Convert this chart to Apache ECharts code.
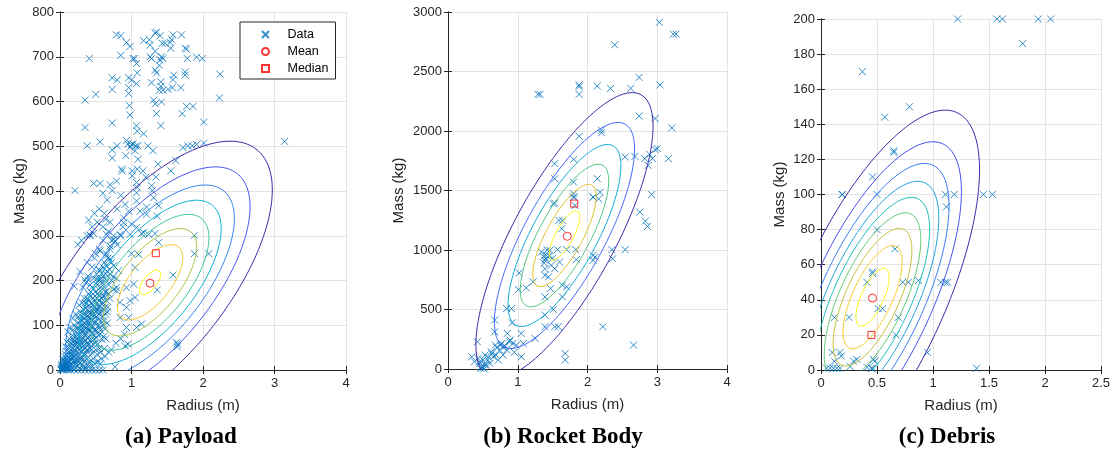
<!DOCTYPE html>
<html><head><meta charset="utf-8">
<script src="https://cdn.jsdelivr.net/npm/echarts@6/dist/echarts.min.js"></script>
<style>html,body{margin:0;padding:0;background:#fff}#c{width:1114px;height:458px}</style>
</head><body><div id="c"></div>
<script>
// ---------------- DATA ----------------
const panelTitles = ['(a) Payload', '(b) Rocket Body', '(c) Debris'];
const legendNames = ['Data', 'Mean', 'Median'];
const xAxisName = 'Radius (m)';
const yAxisName = 'Mass (kg)';

const payloadData = [
[0.21,401],[0.41,696],[0.35,603],[0.50,616],[0.35,542],[0.38,501],[0.56,510],[0.47,417],[0.56,417],[0.70,414],[0.73,401],[0.73,653],[0.73,627],[0.80,648],[0.73,552],[0.73,492],[0.73,474],[0.80,501],[0.79,422],[0.79,749],[0.85,747],[0.85,703],[0.93,732],[0.98,723],[0.96,631],[0.96,618],[0.97,591],[0.96,653],[1.00,648],[0.98,570],[0.86,449],[0.87,445],[0.92,479],[0.93,513],[0.95,505],[0.98,498],[1.00,504],[1.02,505],[1.06,501],[1.09,501],[1.02,696],[1.04,696],[1.07,685],[1.08,664],[1.07,640],[1.09,471],[1.08,449],[1.07,546],[1.08,534],[1.17,528],[1.05,490],[1.07,419],[1.08,408],[1.07,396],[1.01,445],[1.01,434],[1.17,736],[1.25,738],[1.26,726],[1.28,696],[1.26,700],[1.33,712],[1.33,753],[1.35,755],[1.40,747],[1.43,730],[1.47,730],[1.54,732],[1.56,738],[1.58,749],[1.70,749],[1.55,719],[1.42,700],[1.40,693],[1.44,696],[1.39,681],[1.33,670],[1.35,664],[1.28,642],[1.31,603],[1.41,644],[1.41,634],[1.39,625],[1.44,625],[1.51,627],[1.57,631],[1.59,659],[1.58,649],[1.69,631],[1.75,666],[1.75,659],[1.75,719],[1.77,717],[1.78,696],[1.91,699],[1.99,696],[2.24,661],[2.23,608],[1.77,589],[1.86,589],[1.71,573],[1.35,573],[1.42,599],[1.41,546],[1.33,595],[1.72,497],[1.79,501],[1.85,501],[1.91,504],[2.01,507],[2.01,554],[3.14,511],[1.23,501],[1.30,490],[1.37,460],[1.55,445],[1.62,468],[1.34,431],[1.29,401],[1.28,412],[1.20,431],[1.16,445],
[0.40,335],[0.42,302],[0.47,305],[0.64,337],[0.65,303],[0.28,220],[0.20,187],[0.35,201],[0.40,201],[0.51,203],[0.56,203],[0.75,208],[0.79,205],[0.79,184],[0.93,184],[1.03,192],[1.05,229],[1.00,260],[1.10,258],[1.14,305],[1.17,307],[1.24,303],[1.33,305],[1.38,285],[1.58,212],[1.36,179],[1.88,301],[1.88,260],[2.08,260],[1.14,103],[1.07,95],[0.93,95],[0.95,58],[0.91,54],[1.64,58],[1.64,52],[1.63,62],[0.77,7],[0.56,13],[0.93,140],[0.84,151],[0.79,177],[0.96,117],[0.84,117],[0.98,155],[1.05,162],[1.21,364],[1.31,385],[1.38,367],[1.21,348],[1.36,344],[1.07,378],[1.12,355],[1.00,326],[1.07,318],[0.91,370],[0.89,340],[0.89,329],[0.96,355],[0.98,303],[0.84,303],[0.77,288],[0.70,277],[0.70,248],[0.75,292],[0.56,266],[0.65,255],[0.56,222],[0.65,233],[0.75,233],[0.82,222],[0.70,214],
[0.60,395],[0.66,380],[0.55,360],[0.48,350],[0.62,350],[0.85,390],[0.80,360],[0.70,330],[0.60,320],[0.52,330],[0.45,320],[0.38,300],[0.30,290],[0.25,280],
[0.01,1],[0.02,2],[0.03,1],[0.04,3],[0.05,2],[0.06,5],[0.07,3],[0.08,6],[0.09,4],[0.10,8],[0.02,5],[0.04,8],[0.06,10],[0.08,12],[0.10,15],[0.12,10],[0.11,20],[0.13,18],[0.14,25],[0.15,12],[0.15,30],[0.16,22],[0.17,35],[0.18,28],[0.19,40],[0.20,20],[0.20,45],[0.21,33],[0.22,55],[0.23,42],[0.24,60],[0.25,30],[0.25,50],[0.26,65],[0.27,45],[0.28,72],[0.29,55],[0.30,80],[0.30,40],[0.31,62],[0.32,88],[0.33,70],[0.34,95],[0.35,50],[0.35,78],[0.36,102],[0.37,85],[0.38,110],[0.38,60],[0.39,92],[0.40,118],[0.40,75],[0.41,100],[0.42,125],[0.42,65],[0.43,88],[0.44,110],[0.45,132],[0.45,80],[0.46,95],[0.47,120],[0.48,140],[0.48,70],[0.49,105],[0.50,130],[0.50,90],[0.51,148],[0.52,115],[0.53,135],[0.54,100],[0.55,155],[0.55,125],[0.56,142],[0.57,110],[0.58,160],[0.58,130],[0.60,150],[0.60,120],[0.62,165],[0.63,140],[0.65,175],[0.66,130],[0.68,190],[0.70,160],[0.72,200],[0.75,180],
[0.05,25],[0.08,35],[0.12,50],[0.15,60],[0.18,70],[0.22,85],[0.25,95],[0.28,110],[0.30,120],[0.33,135],[0.35,150],[0.38,160],[0.40,170],[0.43,175],[0.45,185],[0.50,175],[0.52,190],[0.55,200],[0.58,215],[0.60,230],[0.62,240],[0.65,260],[0.67,250],[0.70,270],[0.72,290],[0.75,300],[0.68,310],[0.80,280],[0.85,300],[0.88,320],[0.45,230],[0.42,300],[0.50,260],[0.55,270],[0.60,290],
[0.05,0],[0.10,0],[0.15,0],[0.20,0],[0.25,0],[0.30,0],[0.35,0],[0.40,0],[0.45,0],[0.50,0],[0.55,0],[0.60,0],[0.12,2],[0.18,3],[0.22,5],[0.28,4],[0.33,8],[0.38,10],[0.43,12],[0.48,15],[0.53,20],[0.58,25],[0.63,30],[0.68,40],[0.72,45],[0.78,60],[0.85,70],[0.90,80],
[0.15,45],[0.18,55],[0.20,65],[0.23,75],[0.26,80],[0.29,90],[0.32,100],[0.34,115],[0.36,125],[0.39,135],[0.41,145],[0.44,150],[0.46,160],[0.49,165],[0.52,170],[0.54,180],[0.57,185],[0.59,195],[0.62,205],[0.64,215],[0.66,220],
[0.03,10],[0.07,15],[0.11,5],[0.14,8],[0.16,15],[0.19,10],[0.21,18],[0.24,8],[0.27,14],[0.31,12],[0.34,20],[0.36,6],[0.41,18],[0.44,5],[0.27,25],
[0.04,22],[0.07,30],[0.09,42],[0.12,28],[0.14,38],[0.17,48],[0.20,30],[0.23,22],[0.26,38],[0.29,28],[0.32,45],[0.34,32],[0.37,42],[0.40,28],[0.42,48],[0.45,38],[0.47,25],[0.50,45],[0.52,35],[0.55,48],[0.57,40],[0.62,48],
[0.08,52],[0.10,62],[0.13,70],[0.16,58],[0.19,75],[0.21,60],[0.24,70],[0.27,58],[0.30,68],[0.33,55],[0.36,65],[0.39,72],[0.41,58],[0.44,68],[0.47,78],[0.49,60],[0.51,72],[0.53,58],[0.56,80],[0.59,68],[0.61,75],[0.64,70],
[0.11,85],[0.14,95],[0.17,88],[0.20,100],[0.23,92],[0.26,105],[0.29,98],[0.31,85],[0.34,105],[0.37,95],[0.40,88],[0.42,108],[0.45,98],[0.48,90],[0.50,108],[0.52,82],[0.55,95],[0.57,88],[0.60,100],[0.63,92],[0.66,105],
[0.18,115],[0.22,125],[0.25,118],[0.28,130],[0.31,112],[0.33,125],[0.36,138],[0.38,120],[0.41,130],[0.43,115],[0.46,125],[0.49,135],[0.51,120],[0.54,140],[0.56,128],[0.59,138],[0.61,110],[0.64,125],[0.67,140],
[0.27,145],[0.31,150],[0.34,160],[0.37,148],[0.40,155],[0.43,165],[0.46,145],[0.49,155],[0.52,160],[0.55,168],[0.57,150],[0.60,165],[0.63,175],[0.65,155],[0.68,170],
[0.32,185],[0.36,195],[0.39,210],[0.42,190],[0.47,205],[0.51,215],[0.54,225],[0.58,205],[0.62,185],[0.66,200],[0.69,225],[0.72,240],[0.48,250],[0.38,240],
[0.02,12],[0.05,15],[0.06,20],[0.09,25],[0.10,32],[0.13,40],[0.03,6],[0.07,8],[0.09,18],[0.12,15],[0.16,5],[0.22,12],[0.26,20],[0.30,25],[0.35,35],[0.38,45],[0.33,25],[0.39,55],[0.44,45],[0.46,58]
];

const rocketData = [
[3.03,2913],[3.23,2814],[3.27,2814],[2.39,2724],[1.29,2308],[1.32,2308],[1.88,2387],[1.88,2373],[1.88,2308],[2.14,2378],[2.33,2358],[2.62,2358],[2.74,2451],[3.04,2387],[2.74,2125],[2.97,2105],[2.20,2007],[2.20,1984],[1.88,1956],[3.21,2026],[1.53,1726],[1.80,1762],[2.54,1782],[2.68,1787],[2.82,1768],[2.89,1804],[2.93,1768],[2.97,1844],[3.00,1852],[2.87,1711],[3.16,1768],[1.53,1599],[1.80,1571],[2.14,1599],[1.80,1472],[1.80,1444],[2.08,1444],[2.18,1486],
[1.53,1394],[1.51,1388],[1.81,1444],[1.82,1374],[2.08,1444],[2.16,1430],[1.59,1249],[1.64,1249],[1.63,1179],[2.75,1318],[2.83,1243],[2.86,1198],[2.92,1466],[1.34,983],[1.37,947],[1.39,913],[1.41,955],[1.46,997],[1.57,1003],[1.70,1003],[1.83,1003],[1.84,919],[1.60,899],[1.48,871],[1.39,843],[1.39,787],[1.44,774],[1.53,843],[2.08,955],[2.08,913],[2.11,941],[2.35,1003],[2.36,927],[2.54,1003],[1.02,807],[1.01,668],[1.12,682],[1.22,732],[1.47,676],[1.64,704],[1.64,606],[1.70,690],[1.39,606],[1.51,500],[1.39,453],[1.39,355],[1.53,355],[1.58,355],[1.25,257],[0.84,508],[0.91,508],[0.92,388],[0.67,411],[0.67,313],[0.85,299],[1.05,299],[1.08,215],[1.05,103],[0.93,215],[0.89,243],[0.77,215],[0.68,201],[2.22,355],[2.66,201],[1.68,131],[1.68,75],[0.42,229],[0.34,103],[0.38,61],[0.46,47],[0.50,75],[0.53,117],[0.57,75],[0.48,20],[0.53,34],[0.60,47],[0.65,103],[0.69,117],[0.74,159],[0.84,159],[0.79,187],[0.79,117],[0.72,75],[0.62,145],[0.55,34],[0.43,89],
[0.47,5],[0.50,10],[0.52,2],[0.45,60],[0.58,100],[0.63,130],[0.70,180],[0.75,200],[0.82,190],[0.88,230],[0.95,140],[0.98,200],[1.40,930],[1.42,1000],[1.38,890],[1.45,950],[1.50,930]
];

const debrisData = [
[1.22,200],[1.57,200],[1.62,200],[1.94,200],[2.05,200],[1.80,186],[0.37,170],[0.57,144],[0.79,150],[0.65,125],[0.65,124],[0.46,110],[0.19,100],[0.19,100],[0.50,100],[1.11,100],[1.19,100],[1.45,100],[1.53,100],
[1.12,93],[0.50,80],[0.66,69],[0.46,56],[0.46,55],[0.41,50],[0.73,50],[0.78,50],[0.87,51],[1.07,50],[1.11,50],[1.13,50],[0.51,35],[0.55,35],[0.69,30],[0.12,30],[0.25,30],[0.67,20],[0.95,10],[0.10,10],[0.17,10],[0.18,8],[0.12,5],[0.29,5],[0.32,6],[0.48,5],[0.47,6],[0.26,2],[0.41,1.5],[0.45,1],[0.05,1],[0.08,1],[0.11,1],[0.14,1],[0.17,1],[1.39,1],[0.46,1]
];

// Mean and median markers [radius, mass]
const payloadMean = [1.26, 194];
const payloadMedian = [1.34, 261];
const rocketMean = [1.71, 1115];
const rocketMedian = [1.81, 1390];
const debrisMean = [0.46, 41];
const debrisMedian = [0.45, 20];

// Fitted Gaussian (contour) parameters: centre, std devs, correlation, contour levels (fraction of peak density)
const payloadGaussCenter = [1.26, 196];
const payloadGaussSd = [0.835, 154];
const payloadGaussRho = 0.655;
const payloadLevels = [0.123, 0.246, 0.369, 0.492, 0.615, 0.738, 0.861, 0.984];

const rocketGaussCenter = [1.67, 1122];
const rocketGaussSd = [0.661, 625];
const rocketGaussRho = 0.764;
const rocketLevels = [0.158, 0.315, 0.473, 0.631, 0.789, 0.946];

const debrisGaussCenter = [0.46, 41.5];
const debrisGaussSd = [0.45, 50.2];
const debrisGaussRho = 0.68;
const debrisLevels = [0.105, 0.211, 0.316, 0.421, 0.526, 0.632, 0.737, 0.842, 0.947];

// Axis ranges / ticks
const xRanges = [[0, 4, 1], [0, 4, 1], [0, 2.5, 0.5]];
const yRanges = [[0, 800, 100], [0, 3000, 500], [0, 200, 20]];

// ---------------- STYLE / LAYOUT ----------------
const grids = [
  {left: 60, top: 12, width: 286, height: 358},
  {left: 448, top: 12, width: 279, height: 357},
  {left: 821, top: 19, width: 280, height: 351}
];
const yNameGaps = [33, 42, 34];
const captionX = [181, 563, 947];
const blue = '#0072BD';
const axisColor = '#262626';
const font = '"Liberation Sans", Arial, sans-serif';
const xSymbol = 'path://M0,0L10,10M10,0L0,10';
const squareSymbol = 'path://M0,0L10,0L10,10L0,10Z';

const parulaStops = [
  [0.0,[62,38,168]],[0.111,[71,71,235]],[0.222,[62,111,255]],[0.333,[39,150,235]],
  [0.444,[8,181,208]],[0.556,[49,198,159]],[0.667,[129,204,89]],[0.778,[220,189,41]],
  [0.889,[252,207,48]],[1.0,[249,251,21]]
];
function parula(t) {
  for (let i = 0; i < parulaStops.length - 1; i++) {
    const [t0, c0] = parulaStops[i], [t1, c1] = parulaStops[i + 1];
    if (t <= t1) {
      const f = (t - t0) / (t1 - t0);
      return 'rgb(' + c0.map((v, k) => Math.round(v + (c1[k] - v) * f)).join(',') + ')';
    }
  }
  return 'rgb(249,251,21)';
}

function contourPath(center, sd, rho, level) {
  const r = Math.sqrt(-2 * Math.log(level));
  const pts = [];
  const n = 300;
  const q = Math.sqrt(1 - rho * rho);
  for (let i = 0; i <= n; i++) {
    const t = 2 * Math.PI * i / n;
    const c = Math.cos(t), s = Math.sin(t);
    pts.push([center[0] + r * sd[0] * c, center[1] + r * sd[1] * (rho * c + q * s)]);
  }
  return pts;
}

const panels = [
  {data: payloadData, mean: payloadMean, median: payloadMedian, gc: payloadGaussCenter, gs: payloadGaussSd, gr: payloadGaussRho, lv: payloadLevels},
  {data: rocketData, mean: rocketMean, median: rocketMedian, gc: rocketGaussCenter, gs: rocketGaussSd, gr: rocketGaussRho, lv: rocketLevels},
  {data: debrisData, mean: debrisMean, median: debrisMedian, gc: debrisGaussCenter, gs: debrisGaussSd, gr: debrisGaussRho, lv: debrisLevels}
];

const xAxes = [], yAxes = [], series = [], graphics = [];
panels.forEach((p, i) => {
  const [xmin, xmax, xint] = xRanges[i];
  const [ymin, ymax, yint] = yRanges[i];
  const common = {
    gridIndex: i,
    axisLine: {show: true, lineStyle: {color: axisColor, width: 1}},
    axisTick: {show: true, inside: true, length: 4, lineStyle: {color: axisColor}},
    splitLine: {show: false}
  };
  xAxes.push(Object.assign({}, common, {
    type: 'value', position: 'bottom', min: xmin, max: xmax, interval: xint,
    name: xAxisName, nameLocation: 'middle', nameGap: 28,
    nameTextStyle: {fontFamily: font, fontSize: 15, color: axisColor},
    axisLabel: {show: true, margin: 7, fontFamily: font, fontSize: 13, color: axisColor, formatter: v => String(v)},
    splitLine: {show: true, lineStyle: {color: '#e3e3e3', width: 1}}
  }));
  xAxes.push(Object.assign({}, common, {
    type: 'value', position: 'top', min: xmin, max: xmax, interval: xint,
    axisLabel: {show: false}
  }));
  yAxes.push(Object.assign({}, common, {
    type: 'value', position: 'left', min: ymin, max: ymax, interval: yint,
    name: yAxisName, nameLocation: 'middle', nameGap: yNameGaps[i],
    nameTextStyle: {fontFamily: font, fontSize: 15, color: axisColor},
    axisLabel: {show: true, margin: 6, fontFamily: font, fontSize: 13, color: axisColor, formatter: v => String(v)},
    splitLine: {show: true, lineStyle: {color: '#e3e3e3', width: 1}}
  }));
  yAxes.push(Object.assign({}, common, {
    type: 'value', position: 'right', min: ymin, max: ymax, interval: yint,
    axisLabel: {show: false}
  }));
  const xi = 2 * i, yi = 2 * i;
  series.push({
    name: legendNames[0], type: 'scatter', xAxisIndex: xi, yAxisIndex: yi,
    symbol: xSymbol, symbolSize: 7,
    itemStyle: {color: 'rgba(0,0,0,0)', borderColor: blue, borderWidth: 1},
    data: p.data, z: 2
  });
  const nLv = p.lv.length;
  p.lv.forEach((lv, k) => {
    series.push({
      type: 'line', xAxisIndex: xi, yAxisIndex: yi, showSymbol: false, symbol: 'none',
      smooth: false, clip: true, silent: true,
      lineStyle: {color: parula(nLv > 1 ? k / (nLv - 1) : 1), width: 1},
      data: contourPath(p.gc, p.gs, p.gr, lv), z: 3
    });
  });
  series.push({
    name: legendNames[1], type: 'scatter', xAxisIndex: xi, yAxisIndex: yi,
    symbol: 'circle', symbolSize: 8,
    itemStyle: {color: 'rgba(0,0,0,0)', borderColor: '#ff0000', borderWidth: 1},
    data: [p.mean], z: 4
  });
  series.push({
    name: legendNames[2], type: 'scatter', xAxisIndex: xi, yAxisIndex: yi,
    symbol: squareSymbol, symbolSize: 7,
    itemStyle: {color: 'rgba(0,0,0,0)', borderColor: '#ff0000', borderWidth: 1},
    data: [p.median], z: 4
  });
  graphics.push({
    type: 'text', x: captionX[i], y: 437,
    style: {text: panelTitles[i], font: 'bold 23px "Liberation Serif", "Times New Roman", serif',
      fill: '#000', align: 'center', verticalAlign: 'middle', textAlign: 'center', textVerticalAlign: 'middle'}
  });
});

const chart = echarts.init(document.getElementById('c'), null, {renderer: 'canvas'});
chart.setOption({
  animation: false,
  backgroundColor: '#ffffff',
  grid: grids,
  xAxis: xAxes,
  yAxis: yAxes,
  legend: {
    data: legendNames, orient: 'vertical', left: 240, top: 22,
    itemWidth: 34, itemHeight: 7, itemGap: 4, padding: [6, 7, 4, 21],
    borderColor: axisColor, borderWidth: 1, backgroundColor: '#fff',
    textStyle: {fontFamily: font, fontSize: 12.5, color: '#000'},
    selectedMode: false
  },
  series: series,
  graphic: graphics
});
</script>
</body></html>
